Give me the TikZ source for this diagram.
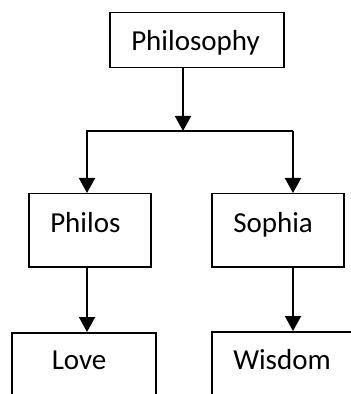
\documentclass[tikz,border=0pt]{standalone}
\usepackage{fontspec}
\setmainfont{Carlito}
\usepackage{tikz}
\usetikzlibrary{
    arrows.meta,
    calc,
    positioning
}
\tikzset{wbox/.style={draw=black, line width=0.75pt, rectangle, anchor=north west, inner ysep=0pt, inner xsep=10.75pt, align=left, font=\fontsize{14.5pt}{17pt}\selectfont}}
\tikzset{darr/.style={draw=black, line width=1pt, -{Triangle[width=8pt, length=7.5pt]}}}

\begin{document}
\begin{tikzpicture}[x=1pt, y=-1pt]
                        \useasboundingbox (0, 0) rectangle (175.5, 197);
                        \clip (0, 0) rectangle (175.5, 197);
                        \node[wbox, minimum width=87pt, text width=65.5pt, text height=19pt, text depth=8.5pt] (philo) at (54.5, 6) {Philosophy};
                        \node[wbox, minimum width=61pt, text width=39.5pt, text height=19.5pt, text depth=17pt] (philos) at (14, 96.5) {Philos};
                        \node[wbox, minimum width=66pt, text width=44.5pt, text height=19.5pt, text depth=17pt] (sophia) at (105.5, 96.5) {Sophia};
                        \node[wbox, inner xsep=20pt, minimum width=72pt, text width=32pt, text height=18.5pt, text depth=25pt] (love) at (5.5, 166) {Love};
                        \node[wbox, minimum width=76pt, text width=54.5pt, text height=19pt, text depth=25pt] (wisdom) at (105.5, 165.5) {Wisdom};

                        \coordinate (split) at (91.5, 65.5);
                        \coordinate (lj) at (43.5, 65.5);
                        \coordinate (rj) at (146.5, 65.5);

                        \draw[darr] (split |- philo.south) -- (split);
                        \draw[darr] (rj) -- (lj) -- (lj |- philos.north);
                        \draw[darr] (rj) -- (rj |- sophia.north);
                        \draw[darr] (lj |- philos.south) -- (lj |- love.north);
                        \draw[darr] (rj |- sophia.south) -- (rj |- wisdom.north);
                    \end{tikzpicture}
\end{document}
